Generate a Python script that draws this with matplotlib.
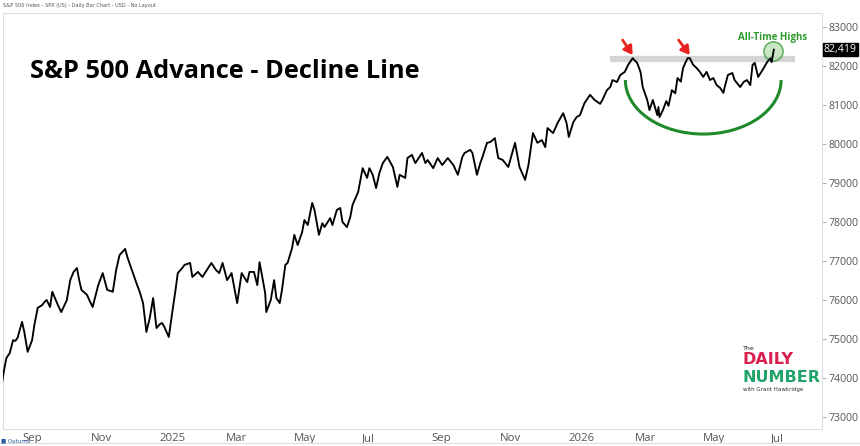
import matplotlib
matplotlib.use("Agg")
import matplotlib.pyplot as plt
import matplotlib.dates as mdates
from matplotlib.patches import Arc
from matplotlib.lines import Line2D
from matplotlib.transforms import ScaledTranslation, blended_transform_factory
import pandas as pd

dates = [
 "2024-08-16","2024-08-18","2024-08-20","2024-08-23","2024-08-26","2024-08-28","2024-08-30","2024-09-03","2024-09-05","2024-09-08",
 "2024-09-12","2024-09-14","2024-09-17","2024-09-21","2024-09-23","2024-09-25","2024-09-28","2024-09-30","2024-10-05","2024-10-08",
 "2024-10-13","2024-10-16","2024-10-19","2024-10-22","2024-10-24","2024-10-26","2024-10-31","2024-11-02","2024-11-05","2024-11-10",
 "2024-11-14","2024-11-18","2024-11-23","2024-11-26","2024-11-29","2024-12-04","2024-12-06","2024-12-10","2024-12-14","2024-12-17",
 "2024-12-20","2024-12-23","2024-12-26","2024-12-29","2025-01-01","2025-01-04","2025-01-06","2025-01-08","2025-01-12","2025-01-15",
 "2025-01-18","2025-01-20","2025-01-24","2025-01-26","2025-01-31","2025-02-02","2025-02-07","2025-02-11","2025-02-15","2025-02-19",
 "2025-02-23","2025-02-26","2025-03-01","2025-03-05","2025-03-09","2025-03-14","2025-03-18","2025-03-23","2025-03-25","2025-03-29",
 "2025-04-01","2025-04-03","2025-04-08","2025-04-09","2025-04-13","2025-04-16","2025-04-18","2025-04-21","2025-04-23","2025-04-26",
 "2025-04-28","2025-05-02","2025-05-04","2025-05-07","2025-05-11","2025-05-13","2025-05-16","2025-05-20","2025-05-22","2025-05-26",
 "2025-05-29","2025-05-31","2025-06-05","2025-06-07","2025-06-11","2025-06-14","2025-06-16","2025-06-20","2025-06-23","2025-06-25",
 "2025-06-30","2025-07-04","2025-07-08","2025-07-10","2025-07-13","2025-07-16","2025-07-19","2025-07-22","2025-07-26","2025-07-31",
 "2025-08-04","2025-08-06","2025-08-11","2025-08-13","2025-08-17","2025-08-20","2025-08-26","2025-08-29","2025-08-31","2025-09-05",
 "2025-09-09","2025-09-13","2025-09-18","2025-09-23","2025-09-27","2025-10-01","2025-10-03","2025-10-08","2025-10-10","2025-10-14",
 "2025-10-17","2025-10-19","2025-10-23","2025-10-26","2025-10-30","2025-11-02","2025-11-06","2025-11-11","2025-11-17","2025-11-21",
 "2025-11-26","2025-11-29","2025-12-03","2025-12-07","2025-12-11","2025-12-14","2025-12-16","2025-12-21","2025-12-25","2025-12-30",
 "2026-01-02","2026-01-04","2026-01-08","2026-01-11","2026-01-14","2026-01-18","2026-01-23","2026-01-27","2026-02-01","2026-02-03",
 "2026-02-07","2026-02-10","2026-02-12","2026-02-16","2026-02-19","2026-02-23","2026-02-26","2026-03-02","2026-03-06","2026-03-09",
 "2026-03-11","2026-03-15","2026-03-17","2026-03-20","2026-03-24","2026-03-25","2026-03-26","2026-03-29","2026-04-01","2026-04-03",
 "2026-04-06","2026-04-09","2026-04-11","2026-04-14","2026-04-16","2026-04-18","2026-04-20","2026-04-22","2026-04-25","2026-04-28",
 "2026-05-01","2026-05-04",
 "2026-05-07","2026-05-10","2026-05-13","2026-05-16","2026-05-19","2026-05-22","2026-05-23","2026-05-26","2026-05-30","2026-06-01",
 "2026-06-06","2026-06-09","2026-06-12","2026-06-15","2026-06-17","2026-06-19","2026-06-22","2026-06-26","2026-06-30","2026-07-03",
 "2026-07-04","2026-07-06",
]
ad_line = [
 73850,74210,74510,74640,74970,74950,75030,75440,75180,74670,
 74970,75360,75800,75870,75950,76000,75820,76210,75870,75690,
 76000,76510,76720,76820,76510,76260,76130,76000,75820,76380,
 76690,76260,76210,76770,77150,77310,77100,76770,76440,76210,
 75920,75180,75540,76050,75280,75380,75410,75310,75050,75670,
 76260,76690,76820,76900,76950,76590,76720,76590,76770,76950,
 76770,76690,76950,76510,76690,75920,76690,76460,76720,76720,
 76380,76970,76180,75690,76000,76510,76050,75920,76260,76900,
 76950,77330,77670,77410,77740,78050,77920,78490,78310,77670,
 77970,77870,78100,77920,78310,78360,78000,77870,78130,78440,
 78770,79380,79130,79380,79210,78870,79260,79510,79670,79410,
 78900,79210,79130,79640,79720,79510,79770,79510,79590,79380,
 79640,79460,79640,79460,79210,79670,79770,79850,79770,79210,
 79510,79670,80030,80050,80150,79640,79590,79410,80030,79410,
 79080,79460,80280,80030,80100,79920,80410,80280,80540,80790,
 80540,80180,80560,80690,80740,81050,81260,81130,81030,81130,
 81380,81460,81640,81590,81770,81850,82030,82200,82080,81850,
 81460,81130,80870,81130,80740,80950,80690,80870,81100,80980,
 81380,81300,81690,81600,81950,82080,82200,82200,82030,81950,
 81850,81720,
 81850,81640,81690,81510,81440,81310,81440,81770,81820,81640,
 81460,81590,81640,81510,82030,82080,81720,81900,82100,82200,
 82100,82419,
]
y_ticks = [73000, 74000, 75000, 76000, 77000, 78000, 79000, 80000, 81000, 82000, 83000]
last_value = 82419
resistance = 82180

title = "S&P 500 Advance - Decline Line"
header = "S&P 500 Index - SPX (US) - Daily Bar Chart - USD - No Layout"

W, H = 860, 446
fig = plt.figure(figsize=(W / 100, H / 100), dpi=100)
fig.patch.set_facecolor("white")
L, R, T, B = 3, 822, 13, 429
ax = fig.add_axes([L / W, 1 - B / H, (R - L) / W, (B - T) / H])

x = pd.to_datetime(dates)
ax.plot(x, ad_line, color="black", lw=1.35, zorder=4, solid_joinstyle="round")

ax.set_xlim(pd.Timestamp("2024-08-17"), pd.Timestamp("2026-08-18"))
ax.set_ylim(72692, 83359)

for s in ax.spines.values():
    s.set_color("#dddddd")
    s.set_linewidth(0.8)

ax.yaxis.tick_right()
ax.set_yticks(y_ticks)
ax.set_yticklabels([str(v) for v in y_ticks])
ax.tick_params(axis="y", length=3, width=0.7, color="#aaaaaa", labelsize=7.6,
               labelcolor="#555555", pad=1.5)
for lab in ax.get_yticklabels():
    lab.set_fontfamily("Open Sans")

ax.xaxis.set_major_locator(mdates.MonthLocator(bymonth=[1, 3, 5, 7, 9, 11]))
def fmt(v, pos=None):
    d = mdates.num2date(v)
    return str(d.year) if d.month == 1 else d.strftime("%b")
ax.xaxis.set_major_formatter(plt.FuncFormatter(fmt))
ax.tick_params(axis="x", length=0, labelsize=8.2, labelcolor="#555555", pad=3)
fig.canvas.draw()
off = ScaledTranslation(3 / 100, 0, fig.dpi_scale_trans)
for lab in ax.get_xticklabels():
    lab.set_horizontalalignment("left")
    lab.set_fontfamily("Open Sans")
    lab.set_transform(lab.get_transform() + off)

# bottom band line
fig.add_artist(Line2D([0, 1], [1 - 443 / H, 1 - 443 / H], color="#dddddd", lw=0.8))

# resistance line
ax.plot(pd.to_datetime(["2026-02-10", "2026-07-25"]), [resistance, resistance],
        color="#d4d4d4", lw=4.5, solid_capstyle="butt", zorder=2)

# arc
c = mdates.date2num(pd.Timestamp("2026-05-04"))
arc = Arc((c, 81640), 139, 2770, theta1=180, theta2=360, color="#1f8a2a", lw=2.2, zorder=3)
ax.add_patch(arc)

# red arrows
for tail, head in [(("2026-02-21", 82666), ("2026-03-02", 82282)),
                   (("2026-04-12", 82666), ("2026-04-22", 82282))]:
    ax.annotate("", xy=(pd.Timestamp(head[0]), head[1]),
                xytext=(pd.Timestamp(tail[0]), tail[1]),
                arrowprops=dict(arrowstyle="-|>,head_length=0.5,head_width=0.3",
                                color="#e8231f", lw=2.0, shrinkA=0, shrinkB=0),
                zorder=6)

# all-time-high circle
ax.scatter([pd.Timestamp("2026-07-05")], [82384], s=190, facecolor="#b9e0b0",
           edgecolor="#3a9a3a", linewidth=1.2, alpha=0.75, zorder=3)
ax.text(pd.Timestamp("2026-07-05"), 82718, "All-Time Highs", color="#2e9a2e",
        fontsize=7, fontweight="bold", ha="center", va="center", family="Open Sans")

# last value label
tr = blended_transform_factory(ax.transAxes, ax.transData)
ax.text(1.002, last_value, f"{last_value:,}", transform=tr, color="white",
        fontsize=7.6, family="Open Sans", ha="left", va="center",
        bbox=dict(boxstyle="square,pad=0.1", fc="black", ec="black"), zorder=10,
        clip_on=False)

# title
fig.text(30 / W, 1 - 72 / H, title, fontsize=18.3, fontweight="bold",
         family="Open Sans", color="black", ha="left", va="center")
fig.text(3 / W, 1 - 5 / H, header, fontsize=3.6, color="#555555", ha="left", va="center")

# logo
fig.text(743 / W, 1 - 349 / H, "The", fontsize=4.5, color="#222222", ha="left", va="center")
fig.text(742 / W, 1 - 360 / H, "DAILY", fontsize=11.5, fontweight="bold", color="#d81f4f",
         ha="left", va="center")
fig.text(742 / W, 1 - 377 / H, "NUMBER", fontsize=11.5, fontweight="bold", color="#22a36a",
         ha="left", va="center")
fig.text(743 / W, 1 - 389 / H, "with Grant Hawkridge", fontsize=4, color="#333333",
         ha="left", va="center")

# optuma logo
fig.text(1 / W, 1 - 442 / H, "\u25a0 Optuma", fontsize=4, color="#2a5ea8",
         ha="left", va="center")

fig.savefig("out.png", dpi=100, facecolor="white")
